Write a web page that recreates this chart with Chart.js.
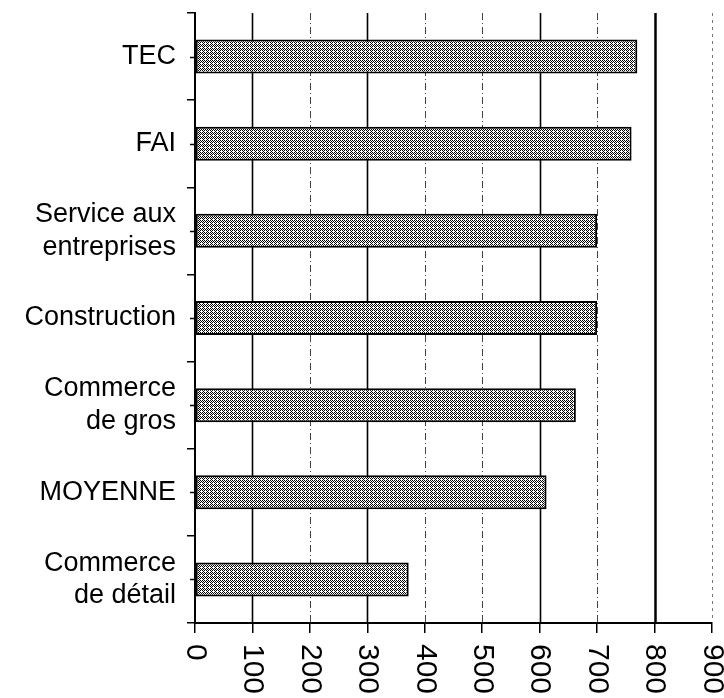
<!DOCTYPE html>
<html>
<head>
<meta charset="utf-8">
<script src="https://cdn.jsdelivr.net/npm/chart.js@4/dist/chart.umd.min.js"></script>
<style>
html,body{margin:0;padding:0;background:#fff;}
#wrap{width:724px;height:698px;}
</style>
</head>
<body>
<div id="wrap"><canvas id="c" width="724" height="698"></canvas></div>
<script>
const categories = [
  "TEC",
  "FAI",
  ["Service aux", "entreprises"],
  "Construction",
  ["Commerce", "de gros"],
  "MOYENNE",
  ["Commerce", "de détail"]
];
const values = [770, 760, 700, 700, 663, 612, 372];
const xTickValues = [0, 100, 200, 300, 400, 500, 600, 700, 800, 900];
const solidGrid = [100, 300, 600, 800];

const FONT = "'Liberation Sans', Arial, sans-serif";

function makePattern() {
  const p = document.createElement('canvas');
  p.width = 4; p.height = 4;
  const g = p.getContext('2d');
  g.fillStyle = '#ffffff';
  g.fillRect(0, 0, 4, 4);
  g.fillStyle = '#000000';
  const dots = [[0,0],[2,0],[1,1],[0,2],[2,2],[3,3],[3,1]];
  dots.forEach(d => g.fillRect(d[0], d[1], 1, 1));
  return document.getElementById('c').getContext('2d').createPattern(p, 'repeat');
}

const gridPlugin = {
  id: 'customGrid',
  beforeDatasetsDraw(chart) {
    const ctx = chart.ctx;
    const xs = chart.scales.x;
    const area = chart.chartArea;
    ctx.save();
    xTickValues.forEach(v => {
      if (v === 0) return;
      const x = Math.round(xs.getPixelForValue(v)) + 0.5;
      ctx.beginPath();
      if (solidGrid.includes(v)) {
        ctx.setLineDash([]);
        ctx.strokeStyle = '#000';
        ctx.lineWidth = v === 800 ? 2.5 : 1.6;
      } else {
        ctx.setLineDash(v === 900 ? [3, 4] : [7, 3, 1, 3]);
        ctx.strokeStyle = v === 900 ? '#777' : '#444';
        ctx.lineWidth = 1;
      }
      ctx.moveTo(x, area.top);
      ctx.lineTo(x, area.bottom);
      ctx.stroke();
    });
    ctx.restore();
  },
  afterDraw(chart) {
    const ctx = chart.ctx;
    const xs = chart.scales.x;
    const ys = chart.scales.y;
    const area = chart.chartArea;
    ctx.save();
    ctx.strokeStyle = '#000';
    ctx.lineWidth = 1.5;
    categories.forEach((c, i) => {
      const y = Math.round(ys.getPixelForValue(i)) + 0.5;
      ctx.beginPath();
      ctx.moveTo(area.left - 5, y);
      ctx.lineTo(area.left, y);
      ctx.stroke();
    });
    ctx.fillStyle = '#000';
    ctx.font = '30px ' + FONT;
    ctx.textAlign = 'left';
    ctx.textBaseline = 'middle';
    xTickValues.forEach(v => {
      const x = xs.getPixelForValue(v);
      ctx.save();
      ctx.translate(x, area.bottom + 21);
      ctx.rotate(Math.PI / 2);
      ctx.fillText(String(v), 0, 0);
      ctx.restore();
    });
    ctx.restore();
  }
};

new Chart(document.getElementById('c'), {
  type: 'bar',
  data: {
    labels: categories,
    datasets: [{
      data: values,
      backgroundColor: makePattern(),
      borderColor: '#000',
      borderWidth: 2,
      borderSkipped: false,
      categoryPercentage: 1,
      barPercentage: 0.39
    }]
  },
  options: {
    indexAxis: 'y',
    responsive: false,
    animation: false,
    events: [],
    layout: { padding: { top: 13, right: 12, left: 0, bottom: 0 } },
    plugins: { legend: { display: false }, tooltip: { enabled: false } },
    scales: {
      x: {
        type: 'linear',
        min: 0,
        max: 900,
        ticks: { stepSize: 100, display: false },
        grid: { drawOnChartArea: false, drawTicks: true, tickLength: 10, color: '#000', lineWidth: 1.5 },
        border: { display: true, color: '#000', width: 2 },
        afterFit(scale) { scale.height = 75; scale.paddingLeft = 0; scale.paddingRight = 0; }
      },
      y: {
        offset: true,
        ticks: {
          color: '#000',
          font: { family: FONT, size: 27, lineHeight: 1.2 },
          padding: 11,
          autoSkip: false
        },
        grid: { offset: true, drawOnChartArea: false, drawTicks: true, tickLength: 8, color: '#000', lineWidth: 1.5 },
        border: { display: true, color: '#000', width: 2 },
        afterFit(scale) { scale.width = 195; scale.paddingTop = 0; scale.paddingBottom = 0; }
      }
    }
  },
  plugins: [gridPlugin]
});
</script>
</body>
</html>
